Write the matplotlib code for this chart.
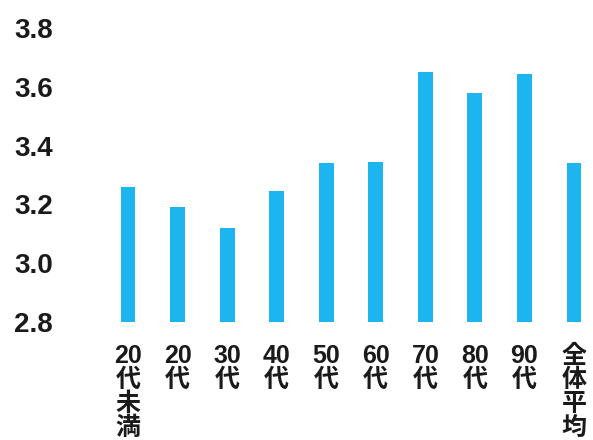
import matplotlib
matplotlib.use("Agg")
import matplotlib.pyplot as plt

categories = ["20\n代\n未\n満", "20\n代", "30\n代", "40\n代", "50\n代", "60\n代", "70\n代", "80\n代", "90\n代", "全\n体\n平\n均"]
values = [3.26, 3.19, 3.12, 3.245, 3.34, 3.345, 3.65, 3.58, 3.645, 3.34]
yticks = [2.8, 3.0, 3.2, 3.4, 3.6, 3.8]
ytick_labels = ["2.8", "3.0", "3.2", "3.4", "3.6", "3.8"]

plt.rcParams['font.family'] = ['Liberation Sans', 'Noto Sans CJK JP', 'DejaVu Sans']

fig = plt.figure(figsize=(5.93, 4.40), dpi=100)
W, H = 593, 440
left_px, right_px = 100, 590
top_px, bot_px = 28, 322
ax = fig.add_axes([left_px / W, 1 - bot_px / H, (right_px - left_px) / W, (bot_px - top_px) / H])

x = list(range(len(categories)))
ax.bar(x, [v - 2.8 for v in values], bottom=2.8, width=0.3, color="#1DB5F0")

scale = (574 - 128) / 9
ax.set_xlim((left_px - 128) / scale, (right_px - 128) / scale)
ax.set_ylim(2.8, 3.8)

ax.set_yticks(yticks)
ax.set_yticklabels(ytick_labels, fontsize=20, fontweight="bold", color="#1a1a1a")
ax.set_xticks(x)
ax.set_xticklabels(categories, fontsize=18, fontweight="bold", color="#1a1a1a",
                   linespacing=1.0, va="top", ha="center")

ax.tick_params(axis="y", length=0, pad=34)
ax.tick_params(axis="x", length=0, pad=16)
for s in ax.spines.values():
    s.set_visible(False)

fig.savefig("out.png", dpi=100)
